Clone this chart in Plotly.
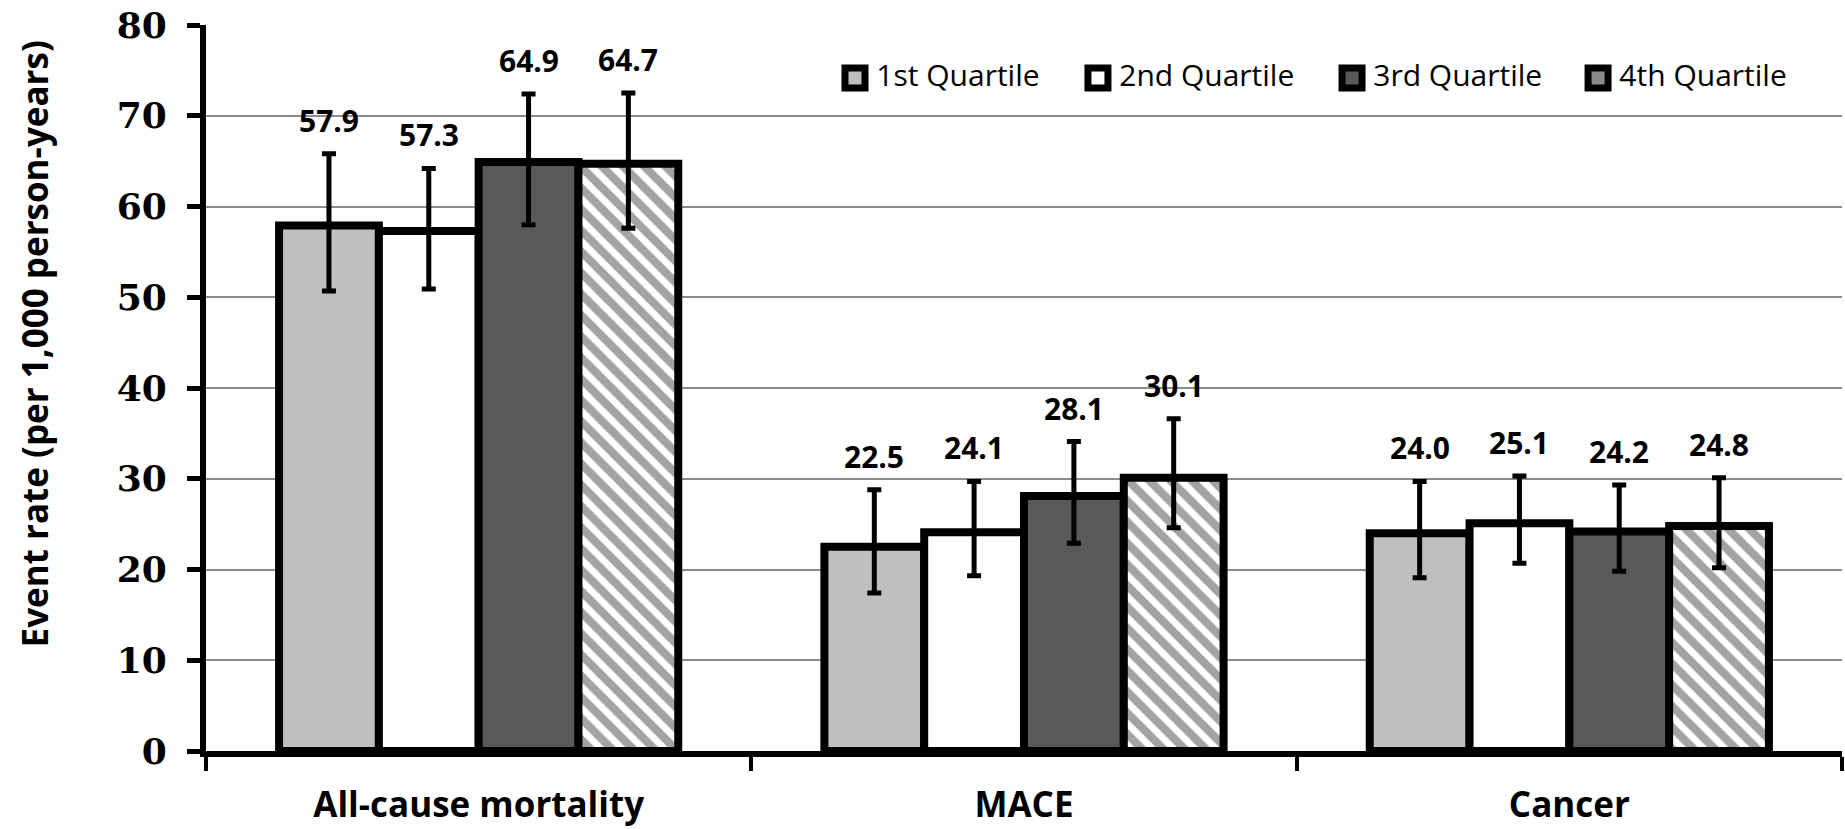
import plotly.graph_objects as go

# Outcomes and quartile event rates (per 1,000 person-years) with 95% CI bounds
outcomes = ["All-cause mortality", "MACE", "Cancer"]
quartiles = ["1st Quartile", "2nd Quartile", "3rd Quartile", "4th Quartile"]

q1_rate = [57.9, 22.5, 24.0]
q2_rate = [57.3, 24.1, 25.1]
q3_rate = [64.9, 28.1, 24.2]
q4_rate = [64.7, 30.1, 24.8]

q1_upper = [65.8, 28.8, 29.7]
q2_upper = [64.2, 29.7, 30.3]
q3_upper = [72.4, 34.1, 29.3]
q4_upper = [72.5, 36.6, 30.1]

q1_lower = [50.7, 17.4, 19.1]
q2_lower = [50.9, 19.3, 20.7]
q3_lower = [58.0, 22.9, 19.8]
q4_lower = [57.6, 24.6, 20.2]

y_ticks = [0, 10, 20, 30, 40, 50, 60, 70, 80]

rates = [q1_rate, q2_rate, q3_rate, q4_rate]
uppers = [q1_upper, q2_upper, q3_upper, q4_upper]
lowers = [q1_lower, q2_lower, q3_lower, q4_lower]

fills = ["#BFBFBF", "#FFFFFF", "#595959", "#FFFFFF"]
key_fills = ["#BFBFBF", "#FFFFFF", "#595959", "#8a8a8a"]
patterns = [None, None, None, dict(shape="\\", fgcolor="#474747", bgcolor="#FFFFFF",
                                   size=15, solidity=0.55)]

BAR_GAP = 0.268
LABEL_FONT = "Open Sans"

# Key layout in the plot's paper fraction (swatch centres along the top row)
KEY_X = [0.3967, 0.5452, 0.7005, 0.8509]
KEY_Y = 0.927

fig = go.Figure()
for i, name in enumerate(quartiles):
    marker = dict(color=fills[i], line=dict(color="black", width=8))
    if patterns[i]:
        marker["pattern"] = patterns[i]
    fig.add_trace(go.Bar(
        name=name,
        x=outcomes,
        y=rates[i],
        marker=marker,
        showlegend=False,
        error_y=dict(
            type="data",
            symmetric=False,
            array=[u - r for u, r in zip(uppers[i], rates[i])],
            arrayminus=[r - l for r, l in zip(rates[i], lowers[i])],
            color="black",
            thickness=5,
            width=7,
        ),
    ))

# Key: framed square swatches with their quartile names, on an overlay axis
fig.add_trace(go.Scatter(
    x=KEY_X, y=[KEY_Y] * len(quartiles), xaxis="x2", yaxis="y2",
    mode="markers+text", text=[" " + q for q in quartiles], textposition="middle right",
    textfont=dict(family=LABEL_FONT, size=30, color="black"),
    marker=dict(symbol="square", size=20, color=key_fills,
                line=dict(color="black", width=7)),
    showlegend=False, hoverinfo="skip", cliponaxis=False,
))

# Value labels sitting above the upper end of each error bar
bar_w = (1 - BAR_GAP) / len(quartiles)
annotations = []
for i in range(len(quartiles)):
    offset = (i - (len(quartiles) - 1) / 2) * bar_w
    for j in range(len(outcomes)):
        annotations.append(dict(
            x=j + offset, y=uppers[i][j], xref="x", yref="y",
            text=f"{rates[i][j]:.1f}", showarrow=False,
            yanchor="bottom", yshift=11,
            font=dict(family=LABEL_FONT, size=30, color="black", weight="bold"),
        ))

# Y-axis title
annotations.append(dict(
    x=0, y=0.56, xref="paper", yref="paper", xshift=-172,
    text="Event rate (per 1,000 person-years)", textangle=-90, showarrow=False,
    xanchor="center", yanchor="middle",
    font=dict(family=LABEL_FONT, size=35, color="black", weight="bold"),
))

fig.update_layout(
    width=1845, height=829,
    margin=dict(l=206, r=3, t=25, b=78, autoexpand=False),
    paper_bgcolor="white", plot_bgcolor="white",
    barmode="group", bargap=BAR_GAP, bargroupgap=0,
    showlegend=False,
    annotations=annotations,
    xaxis=dict(
        type="category", range=[-0.5, 2.5],
        tickson="boundaries", ticks="outside", ticklen=14, tickwidth=4, tickcolor="black",
        showline=True, linewidth=6, linecolor="black",
        showgrid=False, zeroline=False,
        tickfont=dict(family=LABEL_FONT, size=35, color="black", weight="bold"),
        ticklabelstandoff=18,
    ),
    yaxis=dict(
        range=[0, 80], tickvals=y_ticks,
        ticks="outside", ticklen=13, tickwidth=5, tickcolor="black",
        showline=True, linewidth=6, linecolor="black",
        showgrid=True, gridcolor="#8c8c8c", gridwidth=2, zeroline=False,
        tickfont=dict(family="DejaVu Serif", size=36, color="black", weight="bold"),
        ticklabelstandoff=13,
    ),
    xaxis2=dict(overlaying="x", range=[0, 1], visible=False, fixedrange=True),
    yaxis2=dict(overlaying="y", range=[0, 1], visible=False, fixedrange=True),
)

fig.write_html("out.html")
